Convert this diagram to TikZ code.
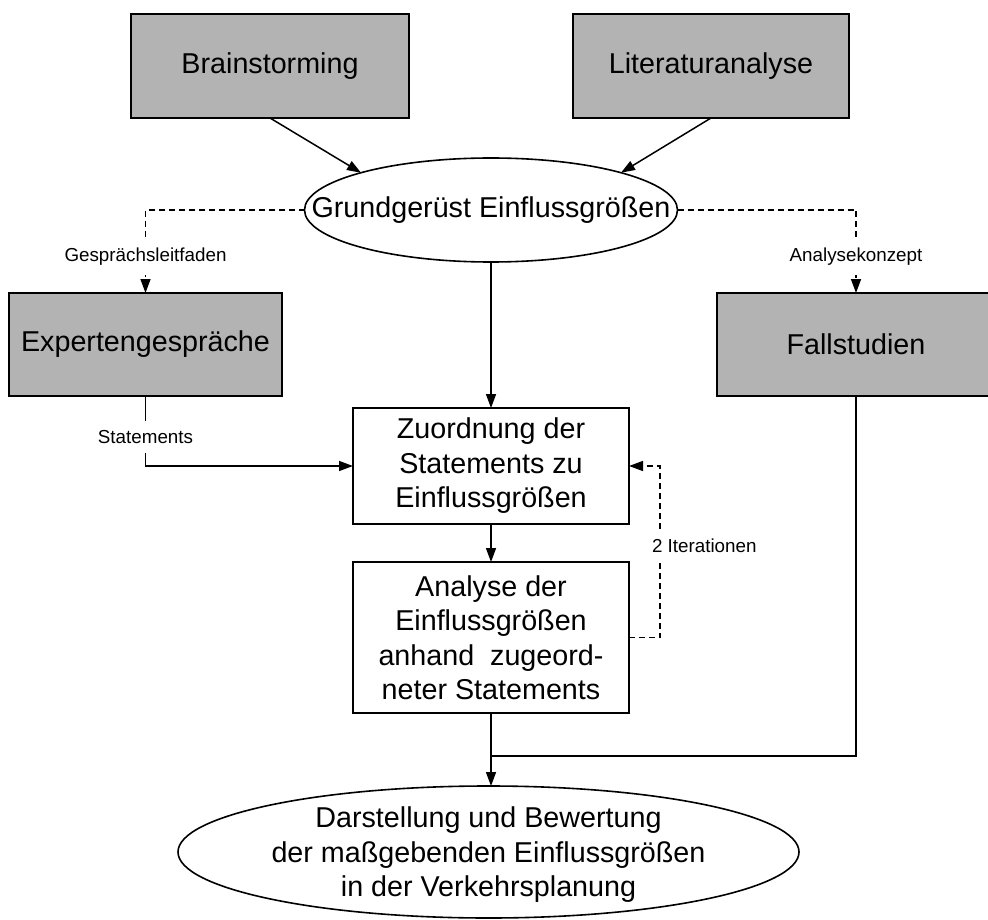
\documentclass[tikz,border=0pt]{standalone}
\usepackage{fontspec}
\setmainfont{Liberation Sans}
\usetikzlibrary{arrows.meta,shapes.geometric}
\definecolor{boxgray}{RGB}{179,179,179}

\begin{document}
\begin{tikzpicture}[x=1pt,y=-1pt,
  every node/.style={inner sep=0pt, outer sep=0pt},
  mainfont/.style={font=\fontsize{28.7}{34.5}\selectfont},
  source/.style={draw, fill=boxgray, line width=1.6pt, mainfont},
  process/.style={draw, fill=white, line width=1.6pt, align=center, minimum width=276pt, mainfont},
  oval/.style={draw, ellipse, line width=1.6pt},
  ovaltext/.style={align=center, mainfont},
  conn/.style={line width=1.5pt},
  arr/.style={conn, -{Triangle[length=14pt,width=10pt]}},
  dasharr/.style={arr, dash pattern=on 6pt off 4pt},
  tag/.style={fill=white, inner xsep=3pt, inner ysep=9pt, font=\fontsize{18.8}{22}\selectfont}
]
\useasboundingbox (0,0) rectangle (988,920);

% input sources
\node[source, minimum width=278pt, minimum height=104pt] (brain) at (270,66) {Brainstorming};
\node[source, minimum width=276pt, minimum height=104pt] (lit) at (711,66) {Literaturanalyse};

% framework of influencing factors
\node[oval, minimum width=373pt, minimum height=104pt] (grund) at (491,210) {};
\node[ovaltext] (grundtext) at (grund.center) {Grundgerüst Einflussgrößen};

% interviews and case studies
\node[source, minimum width=273pt, minimum height=103pt] (expert) at (145.5,344.5) {Expertengespräche};
\node[source, minimum width=278pt, minimum height=103pt] (fall) at (856,344.5) {Fallstudien};

% processing steps
\node[process, minimum height=116pt] (zuord) at (491,466) {Zuordnung der\\Statements zu\\Einflussgrößen};
\node[process, minimum height=151pt] (analyse) at (491,637.5) {Analyse der\\Einflussgrößen\\anhand\ \ zugeord-\\neter Statements};

% result
\node[oval, minimum width=621pt, minimum height=132pt] (final) at (488.5,852) {};
\node[ovaltext] (finaltext) at (488.5,855) {Darstellung und Bewertung\\der maßgebenden Einflussgrößen\\in der Verkehrsplanung};

% connectors
\draw[arr] (brain.south) -- (grund.164);
\draw[arr] (lit.south) -- (grund.16);
\draw[dasharr] (grund.west) -| (expert.north);
\draw[dasharr] (grund.east) -| (fall.north);
\draw[arr] (grund.south) -- (zuord.north);
\draw[arr] (expert.south) |- (zuord.west);
\draw[arr] (zuord.south) -- (analyse.north);
\draw[dasharr] (analyse.east) -- ++(31,0) |- (zuord.east);
\coordinate (join) at (491,756);
\draw[conn] (fall.south) |- (join);
\draw[arr] (analyse.south) -- (analyse.south |- final.north);

% connector labels
\node[tag] (tagG) at (145.5,257) {Gesprächsleitfaden};
\node[tag] (tagA) at (856,257) {Analysekonzept};
\node[tag] (tagS) at (145.5,437) {Statements};
\node[tag, anchor=west] (tagI) at (649,546) {2 Iterationen};
\end{tikzpicture}
\end{document}
